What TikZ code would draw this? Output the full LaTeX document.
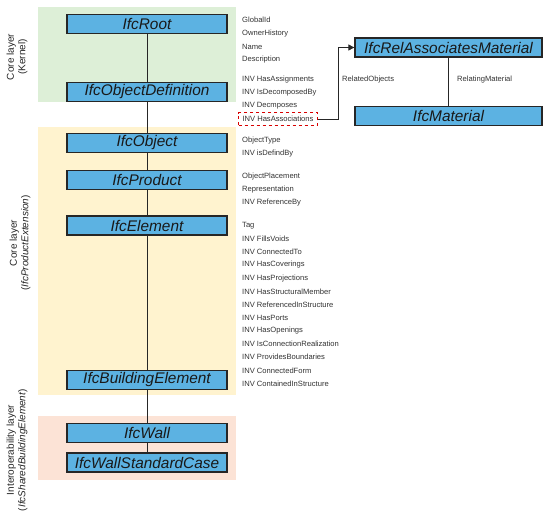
\documentclass[tikz,border=0pt]{standalone}
\usepackage{fontspec}
\setmainfont{Liberation Sans}
\usetikzlibrary{arrows.meta,backgrounds}
\definecolor{boxblue}{RGB}{92,178,226}
\definecolor{kernelgreen}{RGB}{221,239,215}
\definecolor{prodyellow}{RGB}{255,243,207}
\definecolor{sharedpink}{RGB}{252,227,214}
\definecolor{txtgray}{RGB}{50,50,50}
\tikzset{
  cls/.style={draw=black!85, line width=1.3pt, fill=boxblue, minimum width=160pt, minimum height=19pt, inner sep=0pt, font=\fontsize{15.4}{17}\selectfont\itshape, text=black!90},
  attr/.style={anchor=west, inner sep=0pt, font=\fontsize{7.6}{9}\selectfont, text=txtgray},
  lbl/.style={font=\fontsize{7.6}{9}\selectfont, text=txtgray, inner sep=0pt},
  layer/.style={rotate=90, align=center, font=\fontsize{10}{11.5}\selectfont, text=black!85, inner sep=0pt},
  conn/.style={line width=1pt, black!85}
}
\begin{document}
\begin{tikzpicture}[x=1pt,y=-1pt]
\useasboundingbox (0,0) rectangle (550,515);
\begin{pgfonlayer}{background}
\fill[kernelgreen] (38,7) rectangle (236,102);
\fill[prodyellow] (38,127) rectangle (236,395);
\fill[sharedpink] (38,416) rectangle (236,480);
\end{pgfonlayer}

\node[cls] (root) at (147,24) {IfcRoot};
\node[cls] (objdef) at (147,92) {IfcObjectDefinition};
\node[cls] (obj) at (147,143) {IfcObject};
\node[cls] (prod) at (147,180) {IfcProduct};
\node[cls] (elem) at (147,225.5) {IfcElement};
\node[cls] (bldg) at (147,380) {IfcBuildingElement};
\node[cls] (wall) at (147,433) {IfcWall};
\node[cls] (wsc) at (147,462.5) {IfcWallStandardCase};

\node[cls, minimum width=187pt] (relam) at (448.5,47.5) {IfcRelAssociatesMaterial};
\node[cls, minimum width=187pt] (mat) at (448.5,116) {IfcMaterial};

\begin{pgfonlayer}{background}
\draw[conn] (root) -- (objdef);
\draw[conn] (objdef) -- (obj);
\draw[conn] (obj) -- (prod);
\draw[conn] (prod) -- (elem);
\draw[conn] (elem) -- (bldg);
\draw[conn] (bldg) -- (wall);
\draw[conn] (wall) -- (wsc);
\draw[conn] (relam) -- (mat);
\end{pgfonlayer}

\node[layer] (lkernel) at (17,57) {Core layer\\(Kernel)};
\node[layer] (lprod) at (20,243) {Core layer\\(\textit{IfcProductExtension})};
\node[layer] (lshared) at (17,450) {Interoperability layer\\(\textit{IfcSharedBuildingElement})};

\foreach \t [count=\i] in {GlobalId,OwnerHistory,Name,Description}
  \node[attr] (ra\i) at (242,{20+13.3*(\i-1)}) {\t};
\foreach \t [count=\i] in {INV HasAssignments,INV IsDecomposedBy,INV Decmposes}
  \node[attr] (oa\i) at (242,{80+12.8*(\i-1)}) {\t};
\node[attr, draw=red!85!black, dashed, line width=1pt, inner xsep=4pt, inner ysep=3.5pt] (hasassoc) at (238,119) {INV HasAssociations};
\foreach \t [count=\i] in {ObjectType,INV isDefindBy}
  \node[attr] (oba\i) at (242,{141+12.5*(\i-1)}) {\t};
\foreach \t [count=\i] in {ObjectPlacement,Representation,INV ReferenceBy}
  \node[attr] (pa\i) at (242,{177+13*(\i-1)}) {\t};
\foreach \t [count=\i] in {Tag,INV FillsVoids,INV ConnectedTo,INV HasCoverings,INV HasProjections,INV HasStructuralMember,INV ReferencedInStructure,INV HasPorts,INV HasOpenings,INV IsConnectionRealization,INV ProvidesBoundaries,INV ConnectedForm,INV ContainedInStructure}
  \node[attr] (ea\i) at (242,{225.5+13.17*(\i-1)}) {\t};

\coordinate (bend) at (338,119);
\draw[line width=1pt, black!85, -{Triangle[length=6pt,width=6pt]}] (hasassoc.east) -- (bend) |- (relam.west);

\node[lbl, anchor=west] (relobj) at (342,80) {RelatedObjects};
\node[lbl, anchor=west] (relmat) at (457,80) {RelatingMaterial};
\end{tikzpicture}
\end{document}
